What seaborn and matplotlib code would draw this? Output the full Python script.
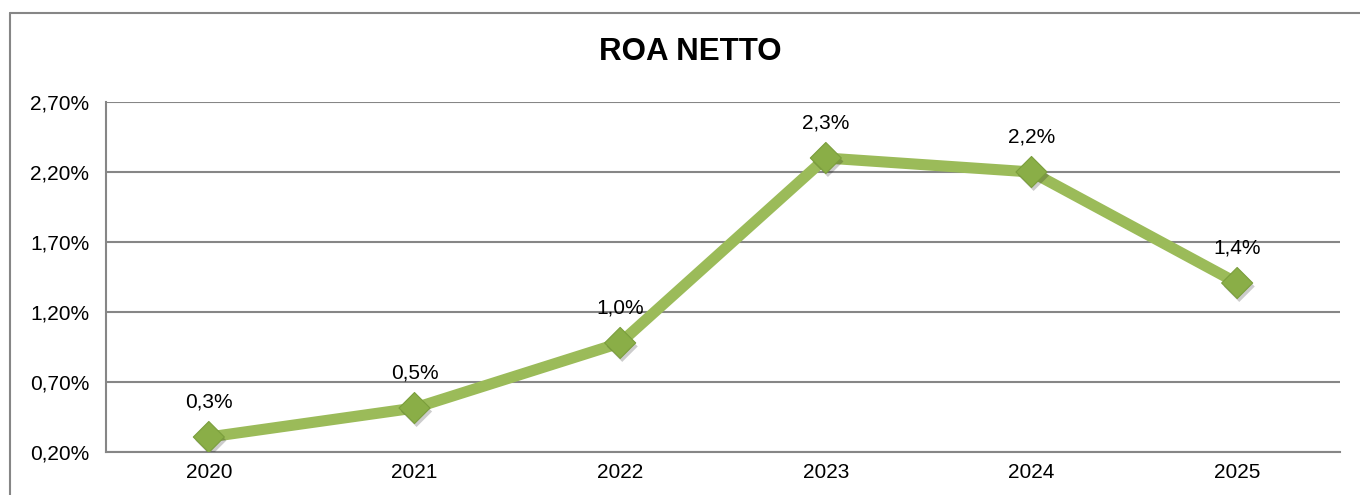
import matplotlib
matplotlib.use("Agg")
import matplotlib.pyplot as plt
import matplotlib.patheffects as pe
import seaborn as sns
import pandas as pd

years = ["2020", "2021", "2022", "2023", "2024", "2025"]
roa = [0.307, 0.514, 0.979, 2.30, 2.20, 1.407]
labels = ["0,3%", "0,5%", "1,0%", "2,3%", "2,2%", "1,4%"]
yticks = [0.20, 0.70, 1.20, 1.70, 2.20, 2.70]
ytick_labels = ["0,20%", "0,70%", "1,20%", "1,70%", "2,20%", "2,70%"]

df = pd.DataFrame({"anno": years, "roa": roa})
df["x"] = range(len(years))

sns.set_style("white")
plt.rcParams["font.family"] = ["Liberation Sans", "DejaVu Sans"]
plt.rcParams["text.color"] = "black"
plt.rcParams["xtick.color"] = "black"
plt.rcParams["ytick.color"] = "black"

fig = plt.figure(figsize=(13.6, 4.95), dpi=100)
ax = fig.add_axes([106 / 1360, 1 - 452 / 495, 1234 / 1360, 350 / 495])

grey = "#868686"
green = "#9BBB59"

sns.lineplot(data=df, x="x", y="roa", ax=ax, color=green, linewidth=8)
sns.scatterplot(data=df, x="x", y="roa", ax=ax, marker="D", s=250,
                color="#8AAE47", edgecolor="#7A9E3C", linewidth=0.8, zorder=3)
ax.collections[-1].set_path_effects([
    pe.SimplePatchShadow(offset=(1.5, -2.5), alpha=0.2, shadow_rgbFace="black"),
    pe.Normal()])

for xi, v, lab in zip(df["x"], roa, labels):
    ax.annotate(lab, (xi, v), xytext=(0, 25), textcoords="offset points",
                ha="center", va="center", fontsize=15, color="black")

ax.set_xlim(-0.5, len(years) - 0.5)
ax.set_ylim(0.20, 2.70)
ax.set_yticks(yticks)
ax.set_yticklabels(ytick_labels)
ax.set_xticks(range(len(years)))
ax.set_xticklabels(years)
ax.set_xticks([i - 0.5 for i in range(len(years) + 1)], minor=True)
ax.tick_params(axis="x", which="major", length=0, labelsize=15, pad=8, labelcolor="black")
ax.tick_params(axis="x", which="minor", length=6, width=1.5, color=grey, direction="out")
ax.tick_params(axis="y", length=6, width=1.5, color=grey, labelsize=15, pad=6,
               direction="out", labelcolor="black")
ax.yaxis.grid(True, color=grey, linewidth=1.5)
ax.set_axisbelow(True)
ax.set_xlabel("")
ax.set_ylabel("")
for s in ["top", "right"]:
    ax.spines[s].set_visible(False)
for s in ["left", "bottom"]:
    ax.spines[s].set_color(grey)
    ax.spines[s].set_linewidth(1.5)

fig.text(690 / 1360, 1 - 52 / 495, "ROA NETTO", ha="center", va="center",
         fontsize=22.5, fontweight="bold", color="black")

# outer chart frame
fig.add_artist(plt.Line2D([9.5 / 1360, 1.0], [1 - 12.5 / 495] * 2, color=grey, linewidth=1.5))
fig.add_artist(plt.Line2D([9.5 / 1360] * 2, [0.0, 1 - 12.5 / 495], color=grey, linewidth=1.5))

fig.savefig("out.png", dpi=100, facecolor="white")
